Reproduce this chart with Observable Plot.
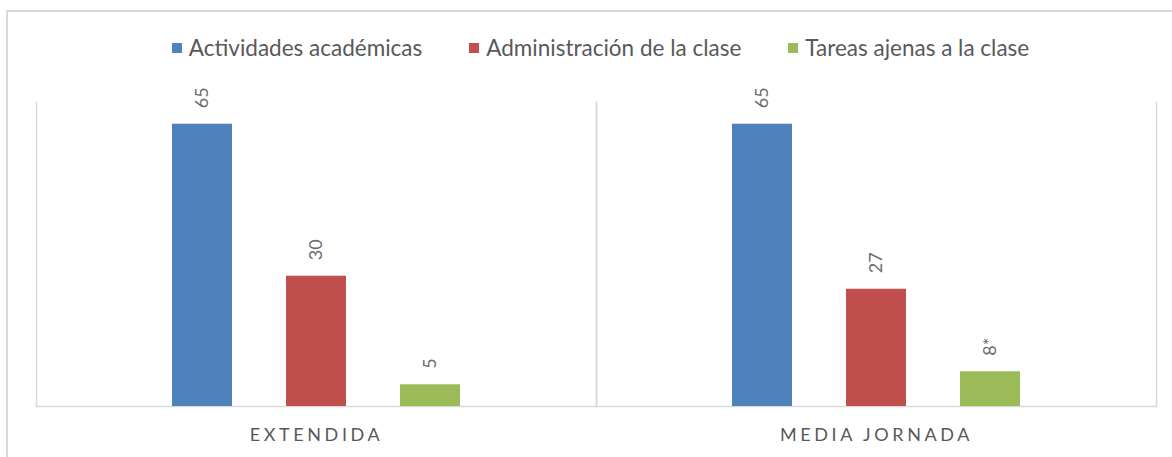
<!DOCTYPE html>
<html><head><meta charset="utf-8">
<script src="https://cdn.jsdelivr.net/npm/d3@7"></script>
<script src="https://cdn.jsdelivr.net/npm/@observablehq/plot@0.6"></script>
<style>
body{margin:0;background:#fff;font-family:Lato,"Open Sans",sans-serif;}
#wrap{position:relative;width:1172px;height:457px;overflow:hidden;background:#fff;}
#frame{position:absolute;left:6px;top:10px;right:-10px;bottom:-10px;border-top:2px solid #d9d9d9;border-left:2px solid #d9d9d9;}
#legend{position:absolute;top:35px;left:29px;right:0;display:flex;justify-content:center;gap:47px;font-size:22.5px;color:#595959;line-height:26px;}
.item{display:flex;align-items:center;gap:7px;white-space:nowrap}
.sw{width:10px;height:10px;display:inline-block}
#chart{position:absolute;left:0;top:70px}
g[aria-label="fx-axis tick label"] text{letter-spacing:3.6px}
</style>
</head><body>
<div id="wrap"><div id="frame"></div><div id="legend"></div><div id="chart"></div></div>
<script>
const jornadas = ["EXTENDIDA", "MEDIA JORNADA"];
const series = ["Actividades académicas", "Administración de la clase", "Tareas ajenas a la clase"];
const colores = ["#4F81BD", "#C0504D", "#9BBB59"];
const valoresExtendida = [65, 30, 5];
const valoresMedia = [65, 27, 8];
const etiquetasExtendida = ["65", "30", "5"];
const etiquetasMedia = ["65", "27", "8*"];

const datos = [];
series.forEach((s, i) => datos.push({jornada: jornadas[0], serie: s, valor: valoresExtendida[i], etiqueta: etiquetasExtendida[i]}));
series.forEach((s, i) => datos.push({jornada: jornadas[1], serie: s, valor: valoresMedia[i], etiqueta: etiquetasMedia[i]}));

const legend = document.getElementById("legend");
series.forEach((s, i) => {
  const it = document.createElement("div"); it.className = "item";
  const sw = document.createElement("span"); sw.className = "sw"; sw.style.background = colores[i];
  const t = document.createElement("span"); t.textContent = s;
  it.append(sw, t); legend.append(it);
});

const grid = {stroke: "#d9d9d9", strokeWidth: 1.5};
const plot = Plot.plot({
  width: 1172, height: 387,
  marginTop: 32, marginBottom: 51, marginLeft: 36, marginRight: 16,
  style: {fontFamily: 'Lato, "Open Sans", sans-serif', background: "transparent", overflow: "visible"},
  fx: {domain: jornadas, padding: 0, label: null},
  x: {domain: series, paddingInner: 0.478, paddingOuter: 1.174, axis: null},
  y: {domain: [0, 70], axis: null},
  color: {domain: series, range: colores},
  marks: [
    Plot.frame({anchor: "left", ...grid}),
    Plot.frame({anchor: "right", ...grid}),
    Plot.frame({anchor: "bottom", ...grid}),
    Plot.barY(datos, {fx: "jornada", x: "serie", y: "valor", fill: "serie"}),
    Plot.text(datos, {fx: "jornada", x: "serie", y: "valor", text: "etiqueta", rotate: -90,
      textAnchor: "start", lineAnchor: "middle", dy: -16, fill: "#6b6b6b", fontSize: 18}),
    Plot.axisFx({anchor: "bottom", tickSize: 0, tickPadding: 22, fontSize: 18, color: "#595959", label: null})
  ]
});
document.getElementById("chart").append(plot);
</script>
</body></html>
